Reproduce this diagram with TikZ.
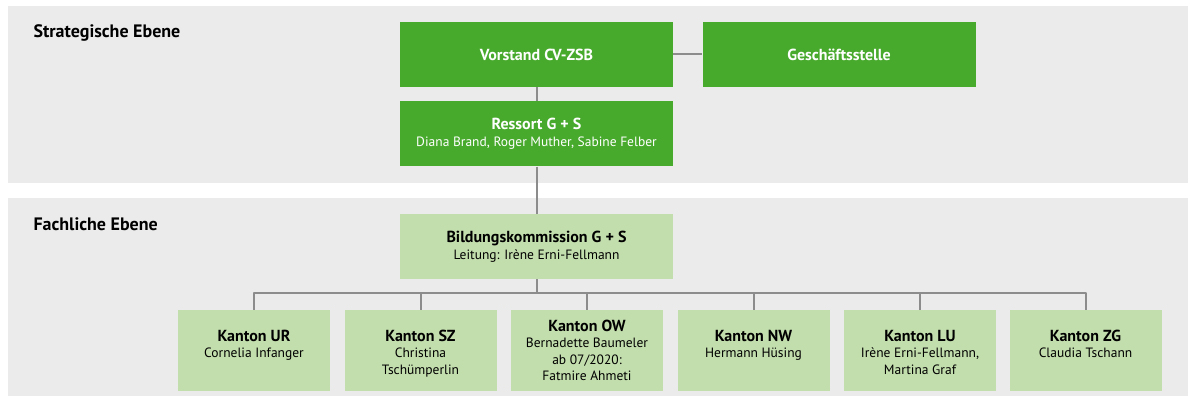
\documentclass[tikz,border=0pt]{standalone}
\usepackage{fontspec}
\setmainfont{PT Sans}
\usepackage{xcolor}
\usetikzlibrary{positioning,calc}
\definecolor{gruen}{RGB}{72,170,45}
\definecolor{hellgruen}{RGB}{195,222,173}
\definecolor{bandgrau}{RGB}{235,235,235}
\definecolor{liniengrau}{RGB}{140,140,140}

\begin{document}
\begin{tikzpicture}[x=1pt, y=-1pt,
 band/.style={fill=bandgrau, draw=none},
 ebene/.style={anchor=west, font=\fontsize{18}{20}\selectfont\bfseries},
 dunkel/.style={fill=gruen, text=white, minimum width=273pt, minimum height=65pt,
   inner sep=0pt, align=center, font=\fontsize{13.5}{17}\selectfont},
 hell/.style={fill=hellgruen, minimum width=273pt, minimum height=65pt,
   inner sep=0pt, align=center, font=\fontsize{13.5}{17}\selectfont},
 kbox/.style={fill=hellgruen, minimum width=152pt, minimum height=81pt, inner sep=0pt},
 ktxt/.style={anchor=north, align=center, inner sep=0pt, font=\fontsize{13.5}{16.5}\selectfont},
 linie/.style={draw=liniengrau, line width=2pt, line join=round}]
\useasboundingbox (0,0) rectangle (1195,401);
% Hintergrund der Ebenen
\fill[band] (8,6) rectangle (1188,183);
\fill[band] (8,198) rectangle (1188,396);
\node[ebene] (strat) at (30,33) {Strategische Ebene};
\node[ebene] (fach) at (30,224) {Fachliche Ebene};
% strategische Ebene
\node[dunkel] (vorstand) at (536.5,54.5) {\bfseries\fontsize{16}{17}\selectfont Vorstand CV-ZSB};
\node[dunkel] (gs) at (839,54.5) {\bfseries\fontsize{16}{17}\selectfont Geschäftsstelle};
\node[dunkel] (ressort) at (536.5,134)
  {\textbf{\fontsize{16}{17}\selectfont Ressort G + S}\\ Diana Brand, Roger Muther, Sabine Felber};
% fachliche Ebene
\node[hell] (bildung) at (536.5,246.5)
  {\textbf{\fontsize{16}{17}\selectfont Bildungskommission G + S}\\ Leitung: Irène Erni-Fellmann};
\coordinate (bus) at (536.5,293);
% Verbindungen
\draw[linie] (vorstand.east) -- (gs.west);
\draw[linie] (vorstand.south) -- (ressort.north);
\draw[linie] (ressort.south) -- (bildung.north);
\draw[linie] (bildung.south) -- (bus);
% Kantone
\node[kbox] (ur) at (254,350.5) {};
\node[kbox] (sz) at (420.5,350.5) {};
\node[kbox] (ow) at (587,350.5) {};
\node[kbox] (nw) at (753.5,350.5) {};
\node[kbox] (lu) at (920,350.5) {};
\node[kbox] (zg) at (1085.5,350.5) {};
\node[ktxt] (urtxt) at ($(ur.north)+(0,20)$) {\textbf{\fontsize{16}{16.5}\selectfont Kanton UR}\\ Cornelia Infanger};
\node[ktxt] (sztxt) at ($(sz.north)+(0,20)$) {\textbf{\fontsize{16}{16.5}\selectfont Kanton SZ}\\ Christina\\ Tschümperlin};
\node[ktxt] (owtxt) at ($(ow.north)+(0,10)$) {\textbf{\fontsize{16}{17.5}\selectfont Kanton OW}\\ Bernadette Baumeler\\ ab 07/2020:\\ Fatmire Ahmeti};
\node[ktxt] (nwtxt) at ($(nw.north)+(0,20)$) {\textbf{\fontsize{16}{16.5}\selectfont Kanton NW}\\ Hermann Hüsing};
\node[ktxt] (lutxt) at ($(lu.north)+(0,20)$) {\textbf{\fontsize{16}{16.5}\selectfont Kanton LU}\\ Irène Erni-Fellmann,\\ Martina Graf};
\node[ktxt] (zgtxt) at ($(zg.north)+(0,20)$) {\textbf{\fontsize{16}{16.5}\selectfont Kanton ZG}\\ Claudia Tschann};
\foreach \kt in {ur,sz,ow,nw,lu,zg}
  \draw[linie] (bus) -| (\kt.north);
\end{tikzpicture}
\end{document}
